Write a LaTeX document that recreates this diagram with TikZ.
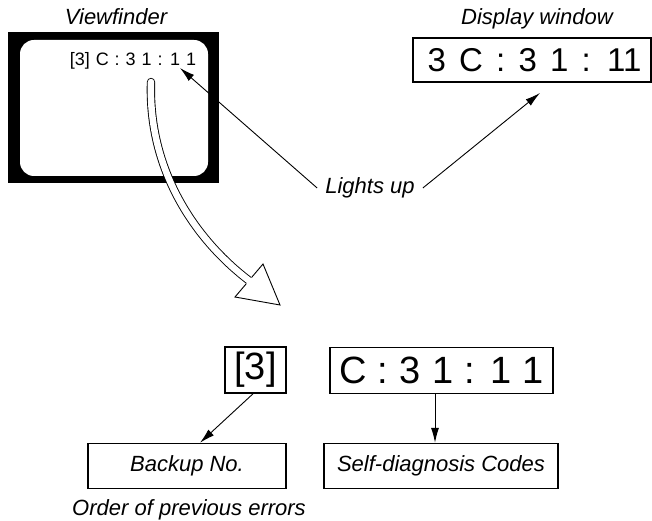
\documentclass[tikz,border=0pt]{standalone}
\usepackage{fontspec}
\setmainfont{Liberation Sans}
\usetikzlibrary{positioning, calc, arrows.meta}

% code fonts with widened word spaces
\newcommand{\vffont}{\fontsize{18}{22}\selectfont\spaceskip 0.33em\relax}
\newcommand{\dispfont}{\fontsize{33}{38}\selectfont\spaceskip 0.4em\relax}
\newcommand{\bigfont}{\fontsize{38}{44}\selectfont\spaceskip 0.3em\relax}

\begin{document}
\begin{tikzpicture}[x=1pt, y=-1pt, >={Latex[length=15pt,width=8pt]},
    lbl/.style={font=\fontsize{22}{26}\selectfont\itshape, inner sep=0pt},
    codebox/.style={draw, line width=1.6pt, inner ysep=0pt, minimum height=46pt},
    namebox/.style={draw, line width=1.5pt, inner sep=0pt, minimum height=45pt,
                    font=\fontsize{22}{26}\selectfont\itshape},
    thinarrow/.style={line width=0.9pt, ->}]

    \useasboundingbox (0,0) rectangle (652,521);

    % --- Viewfinder ---
    % black frame with rounded white screen
    \fill (8,32) rectangle (219,183);
    \fill[white, rounded corners=14pt] (20,40) rectangle (208,176);
    \node[lbl, anchor=base] (vflabel) at (116,25) {Viewfinder};
    \node[font=\vffont, anchor=base, inner sep=0pt] (vfcode) at (133,66) {[3] C : 3 1 : 1 1};
    \coordinate (vftip) at (180,68);
    \coordinate (vfstart) at (151,82);

    % --- Display window ---
    \node[lbl, anchor=base] (displabel) at (537,25) {Display window};
    \node[codebox, inner xsep=0pt, minimum width=238pt, minimum height=44pt, font=\dispfont]
        (disp) at (532,60) {\hspace{5pt}3 C : 3 1 : 11};
    \coordinate (disptip) at (540,93);

    % --- Lights up ---
    \node[lbl, inner xsep=8pt] (lights) at (370,188) {Lights up};
    \draw[thinarrow] (lights.west) -- (vftip);
    \draw[thinarrow] (lights.east) -- (disptip);

    % --- Hollow curved arrow ---
    \coordinate (hbase) at (249,280.5);
    \coordinate (hwingA) at (235,297);
    \coordinate (hwingB) at (263,264);
    \coordinate (htip) at (280,305);
    \draw[line width=0.9pt, double=white, double distance=6.5pt, line cap=round]
        (vfstart) .. controls (148,170) and (195,240) .. ($(hbase)!2pt!(htip)$);
    \fill[white] (hwingA) -- (htip) -- (hwingB) -- cycle;
    \draw[line width=0.9pt, line join=miter]
        ($(hbase)!4.2pt!(hwingA)$) -- (hwingA) -- (htip) -- (hwingB) -- ($(hbase)!4.2pt!(hwingB)$);

    % --- Backup number and codes ---
    \node[codebox, minimum width=61pt, inner xsep=0pt, font=\fontsize{38}{44}\selectfont]
        (bno) at (255.5,370) {[3]};
    \node[codebox, minimum width=223pt, inner xsep=0pt, font=\bigfont]
        (codes) at (441.5,370.5) {C : 3 1 : 1 1};

    \node[namebox, minimum width=198pt] (backup) at (187,466) {Backup No.};
    \node[namebox, minimum width=234pt] (diag) at (441,466) {Self-diagnosis Codes};
    \node[lbl, anchor=base] (order) at (189,515) {Order of previous errors};

    \draw[thinarrow] ([xshift=-2.5pt]bno.south) -- ([xshift=13pt]backup.north);
    \draw[thinarrow] ([xshift=-6.5pt]codes.south) -- ([xshift=-6.5pt]codes.south |- diag.north);

\end{tikzpicture}
\end{document}
